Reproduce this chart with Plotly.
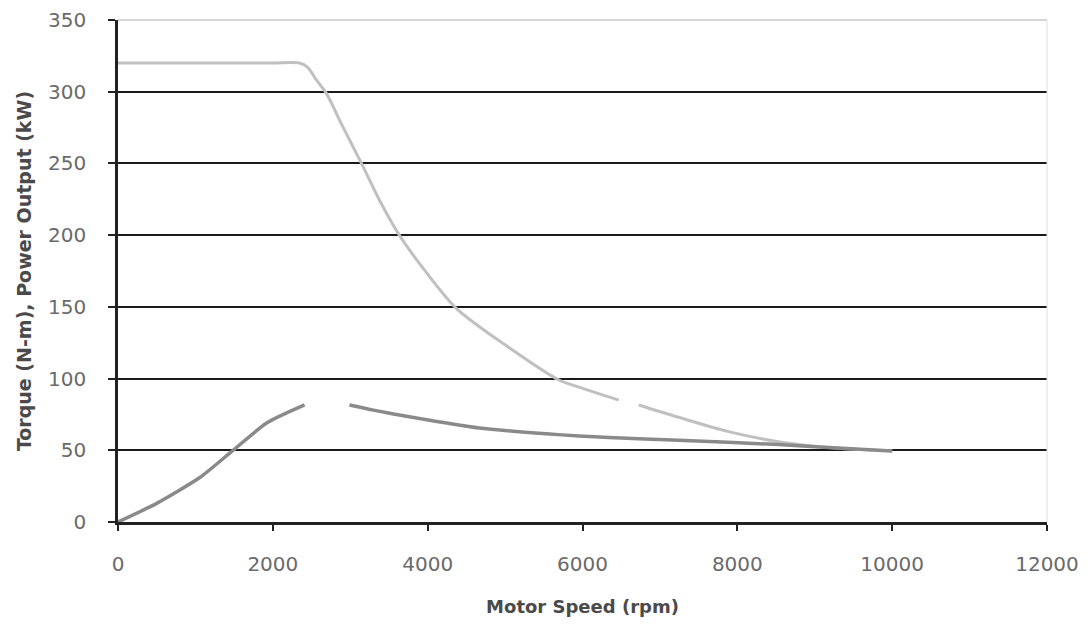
import plotly.graph_objects as go

# Torque curve (N-m) vs motor speed (rpm); None marks the gap seen in the scan
torque_speed = [0, 500, 1000, 1500, 2000, 2345, 2450, 2565, 2690, 2900, 3145, 3376, 3634, 3982, 4369, 5013, 5696, 5954, 6469, None, 6727, 7242, 7887, 8530, 9175, 10000]
torque_vals = [320, 320, 320, 320, 320, 320, 317, 308, 299, 276, 250, 224.5, 200, 174, 149, 123, 99, 94, 85, None, 81.6, 73, 63, 56, 52, 49.5]

# Power output (kW) vs motor speed (rpm)
power_speed = [0, 500, 1057, 1443, 1920, 2410, None, 2990, 3300, 3800, 4665, 5530, 5954, 6340, 7242, 8530, 9175, 10000]
power_vals = [0, 13, 31, 48, 69, 81.6, None, 81.6, 78, 73, 65.5, 61.5, 60, 59, 57, 54, 52, 49.5]

x_ticks = [0, 2000, 4000, 6000, 8000, 10000, 12000]
y_ticks = [0, 50, 100, 150, 200, 250, 300, 350]

fig = go.Figure()
fig.add_trace(go.Scatter(x=torque_speed, y=torque_vals, mode="lines", name="Torque",
                         line=dict(color="#c0c0c0", width=3, shape="spline", smoothing=0.8),
                         connectgaps=False))
fig.add_trace(go.Scatter(x=power_speed, y=power_vals, mode="lines", name="Power",
                         line=dict(color="#8a8a8a", width=3.5, shape="spline", smoothing=0.6),
                         connectgaps=False))

tick_font = dict(family="DejaVu Sans, sans-serif", size=20, color="#6a6a6a")
x_title_font = dict(family="DejaVu Sans, sans-serif", size=18, color="#4a4a4a")
y_title_font = dict(family="DejaVu Sans, sans-serif", size=19, color="#4a4a4a")

fig.update_layout(
    width=1091, height=627,
    margin=dict(l=110, r=52, t=12, b=113, autoexpand=False),
    paper_bgcolor="white", plot_bgcolor="white",
    showlegend=False,
    xaxis=dict(range=[0, 12000], tickvals=x_ticks, ticktext=[str(v) for v in x_ticks],
               showgrid=False, zeroline=False, showline=True, linecolor="#222222", linewidth=2.5,
               ticks="outside", ticklen=6, tickcolor="#222222", tickwidth=1.5,
               tickfont=tick_font, ticklabelstandoff=16,
               title=dict(text="<b>Motor Speed (rpm)</b>", font=x_title_font, standoff=26)),
    yaxis=dict(range=[0, 350], tickvals=y_ticks, ticktext=[str(v) for v in y_ticks],
               showgrid=True, gridcolor="#1a1a1a", gridwidth=2, zeroline=False,
               showline=True, linecolor="#222222", linewidth=2.5,
               ticks="outside", ticklen=7, tickcolor="#222222", tickwidth=1.5,
               tickfont=tick_font, ticklabelstandoff=18,
               title=dict(text="<b>Torque (N-m), Power Output (kW)</b>", font=y_title_font, standoff=12)),
    shapes=[
        dict(type="line", xref="paper", yref="paper", x0=0, x1=1, y0=1, y1=1,
             line=dict(color="#c8c8c8", width=1.5)),
        dict(type="line", xref="paper", yref="paper", x0=1, x1=1, y0=0, y1=1,
             line=dict(color="#dddddd", width=1)),
    ],
)

fig.write_html("out.html")
